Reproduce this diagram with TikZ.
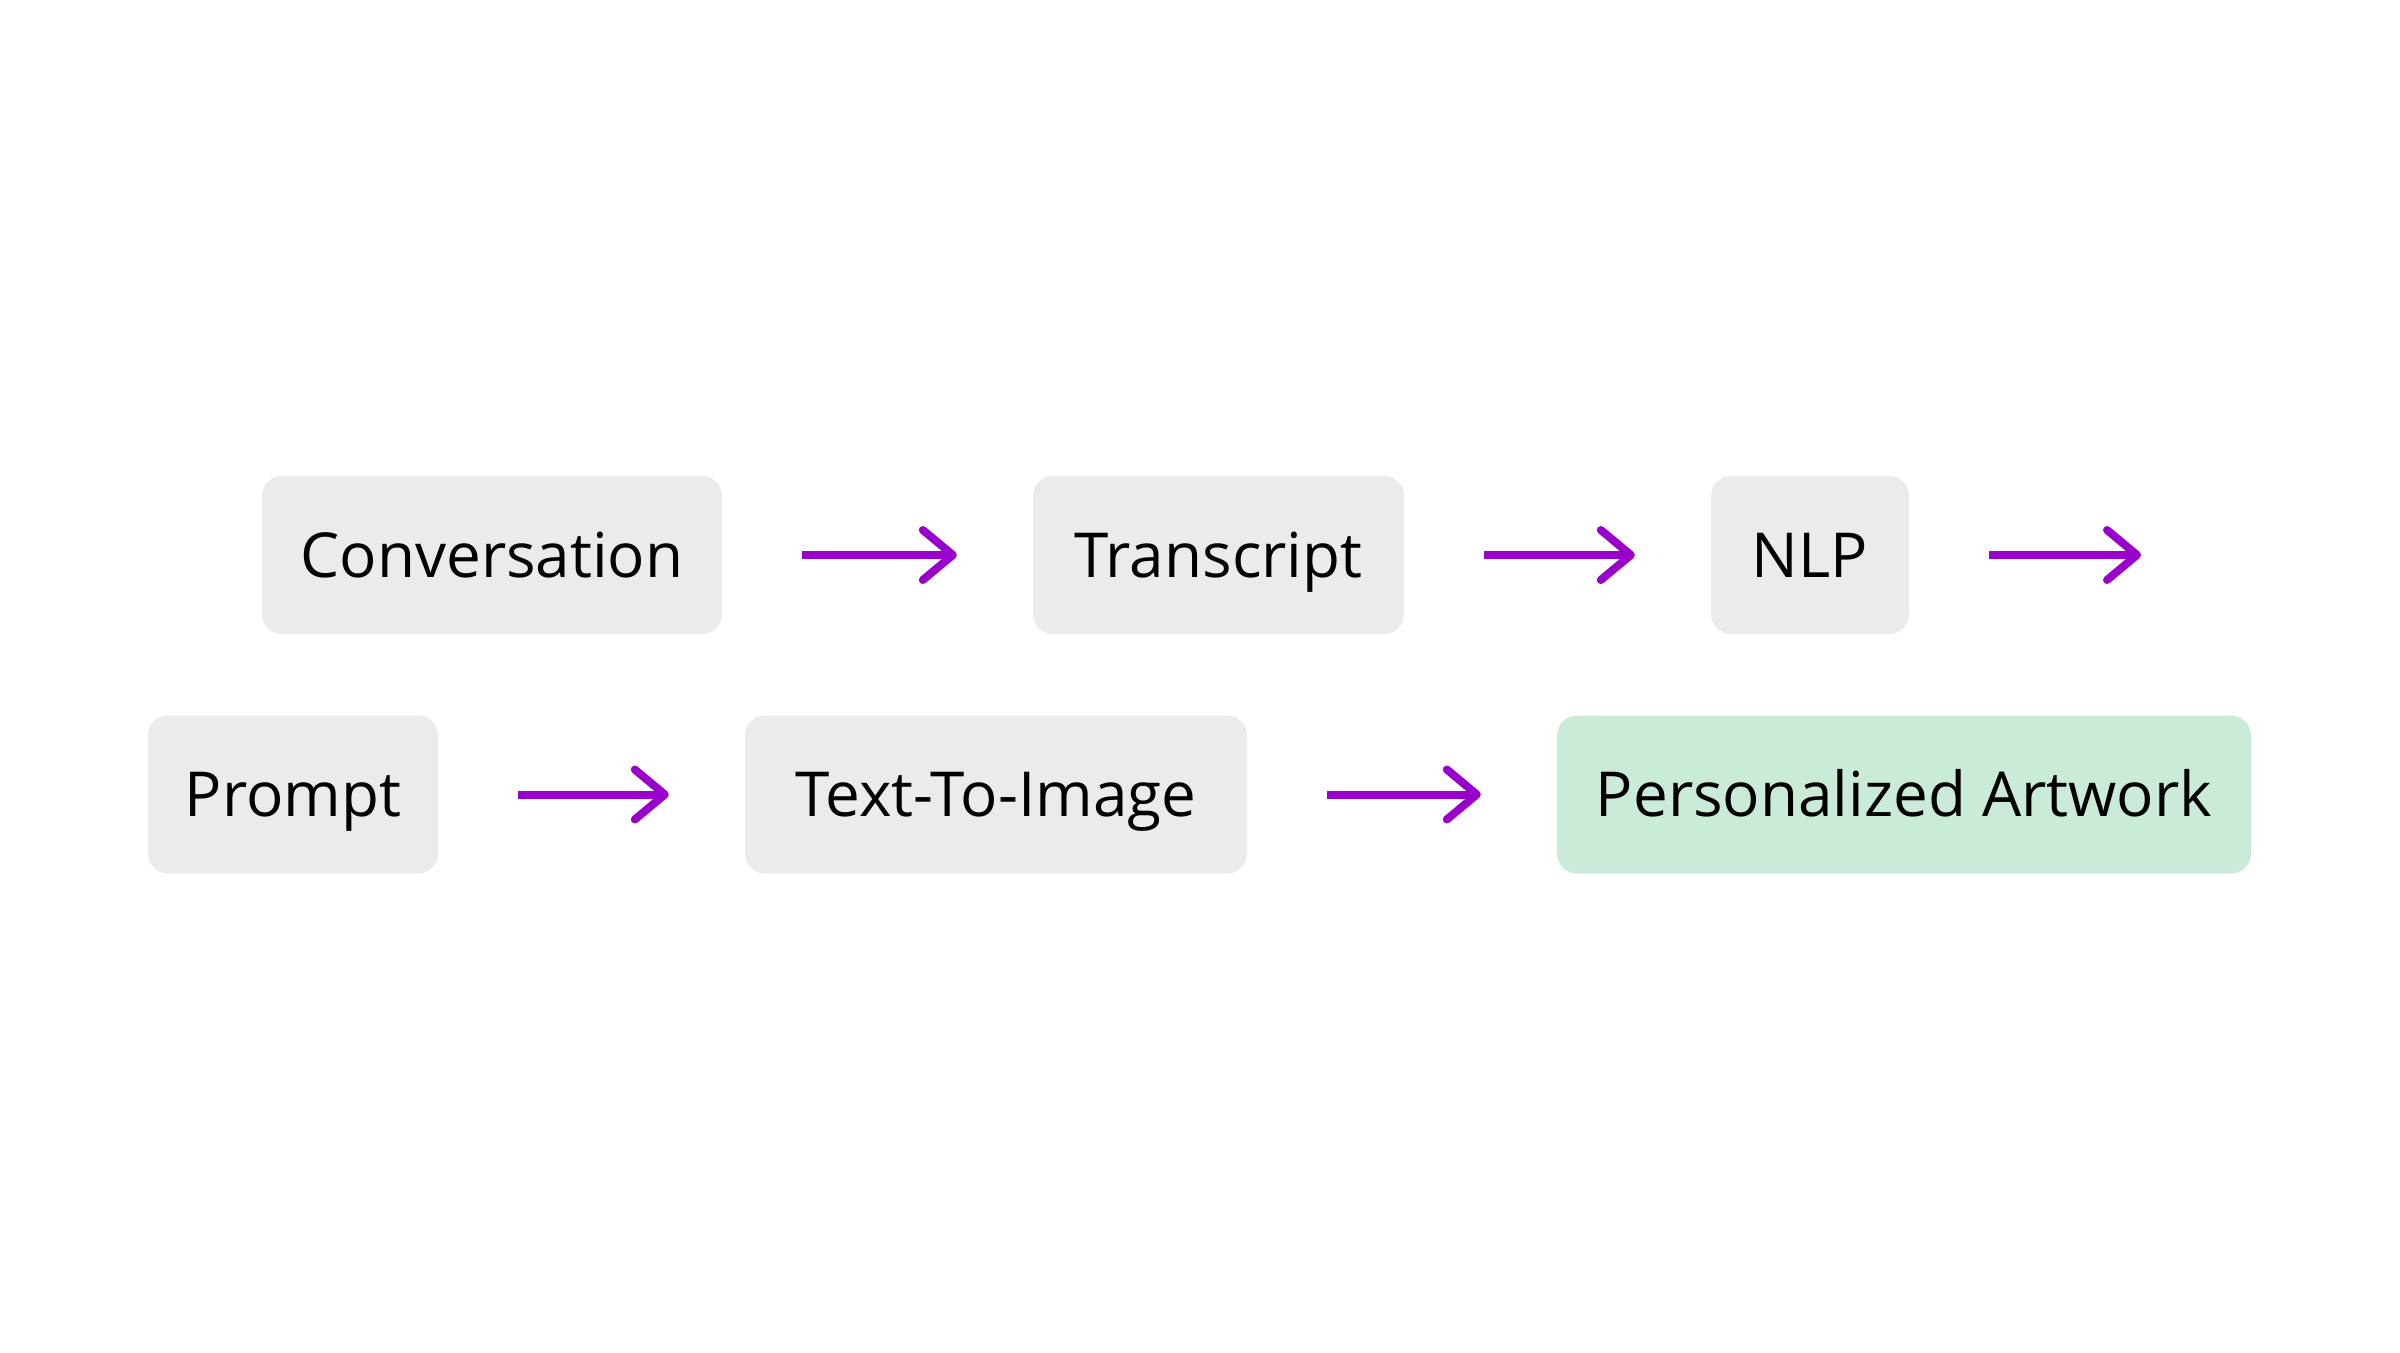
\documentclass[tikz,border=0pt]{standalone}
\usepackage{fontspec}
\setmainfont{Open Sans}
\usetikzlibrary{arrows.meta}
\definecolor{boxgray}{HTML}{EBEBEB}
\definecolor{boxgreen}{HTML}{CBEBD9}
\definecolor{arrowpurple}{HTML}{9900CC}
\begin{document}
\begin{tikzpicture}[x=1pt,y=-1pt,
  box/.style={fill=boxgray, rounded corners=20pt, minimum height=158pt, text height=44.3pt, text depth=0pt, inner sep=0pt, font=\fontsize{62}{70}\selectfont, text=black},
  greenbox/.style={box, fill=boxgreen},
  flow/.style={draw=arrowpurple, line width=8pt, -{Straight Barb[length=30pt,width=50pt,round]}, shorten <=80pt, shorten >=76pt}]
\useasboundingbox[fill=white] (0,0) rectangle (2400,1352);
% top row
\node[box, minimum width=460pt] (conv) at (492,555) {Conversation};
\node[box, minimum width=371pt] (trans) at (1218.5,555) {Transcript};
\node[box, minimum width=198pt] (nlp) at (1810,555) {NLP};
\coordinate (nlpout) at (2217,555);
% bottom row
\node[box, minimum width=290pt] (prompt) at (293,794.5) {Prompt};
\node[box, minimum width=502pt] (tti) at (996,794.5) {Text-To-Image};
\node[greenbox, minimum width=694pt] (art) at (1904,794.5) {Personalized Artwork};
% arrows
\draw[flow] (conv.east) -- (trans.west);
\draw[flow] (trans.east) -- (nlp.west);
\draw[flow] (nlp.east) -- (nlpout);
\draw[flow] (prompt.east) -- (tti.west);
\draw[flow] (tti.east) -- (art.west);
\end{tikzpicture}
\end{document}
